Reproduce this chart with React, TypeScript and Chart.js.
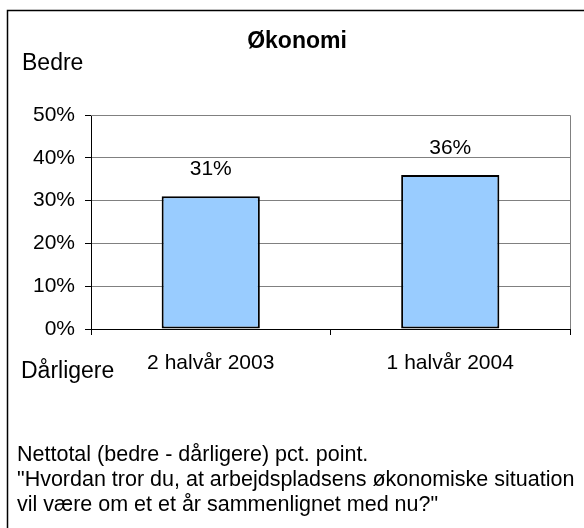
import React, { useEffect, useRef } from "react";
import { Chart, registerables } from "chart.js";

Chart.register(...registerables);

const categories = ["2 halvår 2003", "1 halvår 2004"];
const values = [31, 36];
const yTicks = [0, 10, 20, 30, 40, 50];
const title = "Økonomi";
const topLabel = "Bedre";
const bottomLabel = "Dårligere";
const footerLines = [
  "Nettotal (bedre - dårligere) pct. point.",
  "\"Hvordan tror du, at arbejdspladsens økonomiske situation",
  "vil være om et et år sammenlignet med nu?\"",
];

const FONT = "'Liberation Sans', Arial, sans-serif";

export default function App() {
  const ref = useRef<HTMLCanvasElement | null>(null);

  useEffect(() => {
    const canvas = ref.current;
    if (!canvas) return;

    const decor = {
      id: "decor",
      beforeDraw(chart: any) {
        const ctx = chart.ctx;
        ctx.save();
        ctx.fillStyle = "#ffffff";
        ctx.fillRect(0, 0, chart.width, chart.height);
        ctx.restore();
      },
      afterDraw(chart: any) {
        const ctx = chart.ctx;
        const area = chart.chartArea;
        ctx.save();
        // plot area right/top border
        ctx.strokeStyle = "#808080";
        ctx.lineWidth = 1;
        ctx.beginPath();
        ctx.moveTo(area.left, Math.round(area.top) + 0.5);
        ctx.lineTo(Math.round(area.right) + 0.5, Math.round(area.top) + 0.5);
        ctx.lineTo(Math.round(area.right) + 0.5, area.bottom);
        ctx.stroke();
        // outer frame
        ctx.strokeStyle = "#000000";
        ctx.lineWidth = 1.5;
        ctx.strokeRect(7.5, 10.5, 700, 700);
        // title
        ctx.fillStyle = "#000";
        ctx.textAlign = "center";
        ctx.textBaseline = "middle";
        ctx.font = `bold 23px ${FONT}`;
        ctx.fillText(title, 297, 42);
        // side labels
        ctx.textAlign = "left";
        ctx.font = `23px ${FONT}`;
        ctx.fillText(topLabel, 22, 64);
        ctx.fillText(bottomLabel, 21, 372);
        // footer
        ctx.font = `21.5px ${FONT}`;
        footerLines.forEach((line, i) => {
          ctx.fillText(line, 17, 455 + i * 25);
        });
        // data labels
        const meta = chart.getDatasetMeta(0);
        ctx.textAlign = "center";
        ctx.font = `21px ${FONT}`;
        meta.data.forEach((bar: any, i: number) => {
          ctx.fillText(`${values[i]}%`, bar.x, bar.y - 27);
        });
        ctx.restore();
      },
    };

    const chart = new Chart(canvas, {
      type: "bar",
      data: {
        labels: categories,
        datasets: [
          {
            data: values,
            backgroundColor: "#99CCFF",
            borderColor: "#000000",
            borderWidth: 2,
            borderSkipped: false,
            categoryPercentage: 1,
            barPercentage: 0.41,
          },
        ],
      },
      options: {
        responsive: false,
        animation: false,
        devicePixelRatio: 1,
        layout: { padding: { left: 0, right: 14, top: 115, bottom: 149 } },
        plugins: {
          legend: { display: false },
          title: { display: false },
          tooltip: { enabled: false },
        },
        scales: {
          x: {
            afterFit: (s: any) => {
              s.height = 50;
            },
            grid: {
              offset: true,
              drawOnChartArea: false,
              drawTicks: true,
              tickLength: 6,
              tickColor: "#000",
            },
            border: { color: "#000", width: 1 },
            ticks: {
              color: "#000",
              font: { family: FONT, size: 21 },
              padding: 16,
              maxRotation: 0,
            },
          },
          y: {
            min: 0,
            max: 50,
            afterFit: (s: any) => {
              s.width = 91;
            },
            afterBuildTicks: (s: any) => {
              s.ticks = yTicks.map((v) => ({ value: v }));
            },
            grid: {
              color: "#808080",
              lineWidth: 1,
              drawTicks: true,
              tickLength: 6,
              tickColor: "#000",
            },
            border: { color: "#000", width: 1 },
            ticks: {
              color: "#000",
              font: { family: FONT, size: 21 },
              padding: 10,
              callback: (v: any) => `${v}%`,
            },
          },
        },
      },
      plugins: [decor],
    });

    return () => chart.destroy();
  }, []);

  return (
    <div style={{ position: "absolute", left: 0, top: 0, width: 584, height: 528 }}>
      <canvas ref={ref} width={584} height={528} style={{ display: "block" }} />
    </div>
  );
}
